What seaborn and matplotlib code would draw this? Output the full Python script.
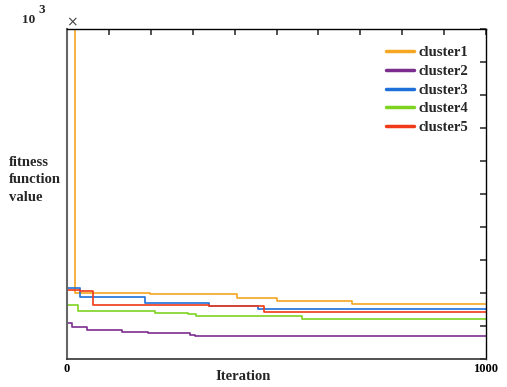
import matplotlib
matplotlib.use("Agg")
import matplotlib.pyplot as plt
import seaborn as sns
import pandas as pd

# ---- data ----
clusters = ["cluster1", "cluster2", "cluster3", "cluster4", "cluster5"]
iters_c1 = [0, 19, 198, 406, 501, 680, 1000]
vals_c1 = [1000, 201, 197, 186, 177, 166, 166]
iters_c2 = [0, 12, 48, 131, 194, 294, 305, 1000]
vals_c2 = [108, 98, 88, 83, 78, 73, 69, 69]
iters_c3 = [0, 31, 186, 340, 456, 1000]
vals_c3 = [214, 187, 169, 161, 152, 152]
iters_c4 = [0, 26, 126, 210, 289, 308, 560, 1000]
vals_c4 = [163, 146, 144, 140, 137, 131, 122, 122]
iters_c5 = [0, 30, 62, 340, 470, 1000]
vals_c5 = [209, 205, 165, 160, 142, 142]
x_tick_labels = ["0", "1000"]

colors = ["#F5A623", "#7B2D8E", "#1E6FD9", "#7ED321", "#F03A17"]

rows = []
for name, xs, ys in zip(clusters,
                        [iters_c1, iters_c2, iters_c3, iters_c4, iters_c5],
                        [vals_c1, vals_c2, vals_c3, vals_c4, vals_c5]):
    for x, y in zip(xs, ys):
        rows.append({"Iteration": x, "value": y, "cluster": name})
df = pd.DataFrame(rows)

sns.set_theme(style="white")
plt.rcParams["font.family"] = ["Liberation Serif", "DejaVu Serif"]

fig = plt.figure(figsize=(5.07, 3.87), dpi=100)
ax = fig.add_axes([67 / 507, 1 - 359 / 387, (486 - 67) / 507, (359 - 29) / 387])

sns.lineplot(data=df, x="Iteration", y="value", hue="cluster",
             palette=dict(zip(clusters, colors)), drawstyle="steps-post",
             estimator=None, sort=False, linewidth=1.2, ax=ax)

ax.set_xlim(0, 1000)
ax.set_ylim(0, 1000)
ax.set_xticks(range(0, 1001, 100))
ax.set_xticklabels([x_tick_labels[0]] + [""] * 9 + [x_tick_labels[1]],
                   fontweight="bold", fontsize=9)
ax.set_yticks(range(0, 1001, 100))
ax.set_yticklabels([])
ax.tick_params(direction="in", top=True, right=True, length=4, width=1.2,
               colors="#333333", pad=3, labelcolor="black")
ax.set_xlabel("")
ax.set_ylabel("")

for side in ["top", "right"]:
    ax.spines[side].set_color("black")
    ax.spines[side].set_linewidth(1.0)
ax.spines["left"].set_color("#666666")
ax.spines["left"].set_linewidth(1.5)
ax.spines["bottom"].set_color("#333333")
ax.spines["bottom"].set_linewidth(1.2)

leg = ax.legend(loc="upper left", bbox_to_anchor=(386 / 507, 1 - 46 / 387),
                bbox_transform=fig.transFigure, frameon=False,
                prop={"weight": "bold", "size": 10.5}, handlelength=1.9,
                handletextpad=0.35, labelspacing=0.38, borderpad=0,
                borderaxespad=0)
for line in leg.get_lines():
    line.set_linewidth(2.5)

fig.text(243 / 507, 1 - 377 / 387, "Iteration", ha="center", va="center",
         fontsize=10.5, fontweight="bold")
fig.text(9 / 507, 1 - 180 / 387, "fitness\nfunction\nvalue", ha="left",
         va="center", fontsize=10.5, fontweight="bold", linespacing=1.45)
fig.text(22 / 507, 1 - 20 / 387, "10", ha="left", va="center",
         fontsize=9.5, fontweight="bold")
fig.text(38 / 507, 1 - 10 / 387, "3", ha="left", va="center",
         fontsize=9.5, fontweight="bold")
fig.text(72 / 507, 1 - 22 / 387, "\u00d7", ha="center", va="center",
         fontsize=10, color="#444444", family="DejaVu Sans")

fig.savefig("out.png", dpi=100)
